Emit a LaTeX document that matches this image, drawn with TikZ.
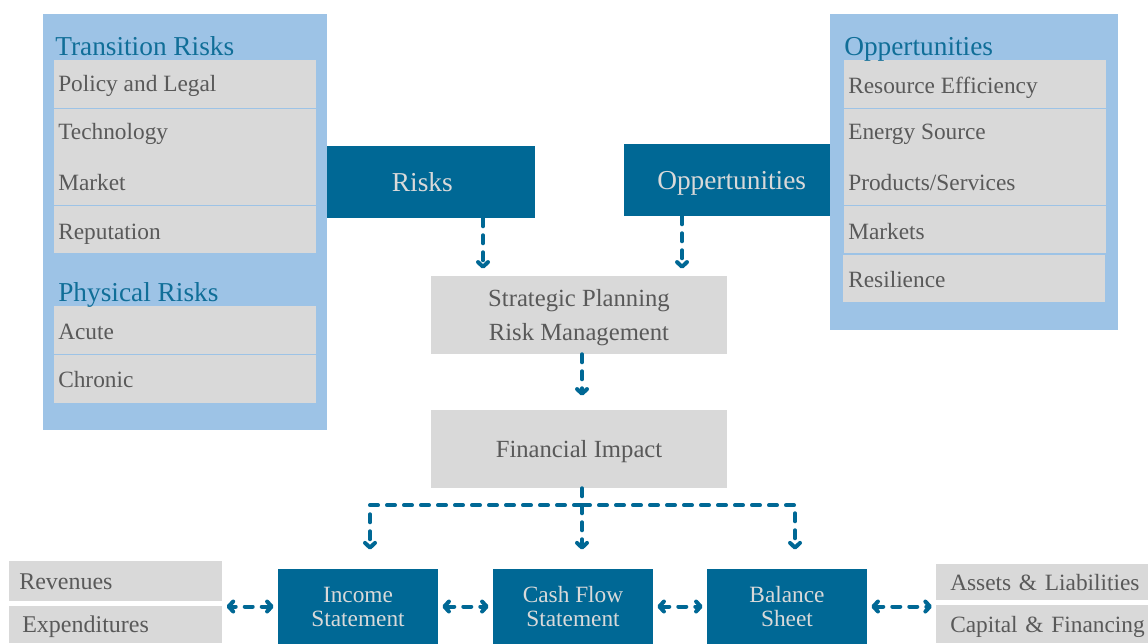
\documentclass[tikz,border=0pt]{standalone}
\usepackage{fontspec}
\setmainfont{Liberation Serif}
\usetikzlibrary{arrows.meta}

\definecolor{panelblue}{RGB}{157,195,230}
\definecolor{boxteal}{RGB}{0,104,149}
\definecolor{titleteal}{RGB}{16,110,152}
\definecolor{cellgray}{RGB}{217,217,217}
\definecolor{cellink}{RGB}{89,89,89}

\begin{document}
\begin{tikzpicture}[x=0.75pt,y=0.75pt,yscale=-1,xscale=1,
	panel/.style={fill=panelblue},
	cell/.style={fill=cellgray},
	entry/.style={anchor=base west,inner sep=0pt,text=cellink,font=\fontsize{17.5}{20}\selectfont},
	heading/.style={anchor=base west,inner sep=0pt,text=titleteal,font=\fontsize{20.5}{24}\selectfont},
	keybox/.style={fill=boxteal,text=cellgray,inner sep=0pt,align=center},
	greybox/.style={fill=cellgray,text=cellink,inner sep=0pt,align=center},
	sidebox/.style={fill=cellgray,text=cellink,anchor=north west,inner ysep=0pt,align=left,text height=12pt,text depth=0pt,font=\fontsize{18}{20}\selectfont},
	tip/.tip={Straight Barb[length=3.5pt,width=7.5pt,round]},
	flow/.style={boxteal,line width=3pt,line cap=round,dash pattern=on 6pt off 6.75pt,-tip},
	twoway/.style={flow,tip-tip,shorten <=3pt,shorten >=3pt}
	]
	\useasboundingbox (0,0) rectangle (1148,643);

	% transition and physical risks
	\fill[panel] (43,14) rectangle (327,430);
	\fill[cell] (54,60) rectangle (316,107.5);
	\fill[cell] (54,108.5) rectangle (316,205);
	\fill[cell] (54,206) rectangle (316,253);
	\fill[cell] (54,306) rectangle (316,354);
	\fill[cell] (54,355) rectangle (316,403);
	\node[heading] (trans) at (55,55) {Transition Risks};
	\node[entry] (policy) at (58,91) {Policy and Legal};
	\node[entry] (tech) at (58,139) {Technology};
	\node[entry] (market) at (58,190) {Market};
	\node[entry] (reput) at (58,239) {Reputation};
	\node[heading] (phys) at (58,301) {Physical Risks};
	\node[entry] (acute) at (58,339) {Acute};
	\node[entry] (chronic) at (58,387) {Chronic};

	% opportunities
	\fill[panel] (830,14) rectangle (1118,330);
	\fill[cell] (844,60) rectangle (1106,107.5);
	\fill[cell] (844,108.5) rectangle (1106,205);
	\fill[cell] (844,206) rectangle (1106,253);
	\fill[cell] (843,254.5) rectangle (1105,302);
	\node[heading] (opphead) at (844,55) {Oppertunities};
	\node[entry] (effic) at (848,93) {Resource Efficiency};
	\node[entry] (energy) at (848,139) {Energy Source};
	\node[entry] (prod) at (848,190) {Products/Services};
	\node[entry] (markets) at (848,239) {Markets};
	\node[entry] (resil) at (848,287) {Resilience};

	% middle column
	\node[keybox,minimum width=156pt,minimum height=54pt,text height=13.5pt,text depth=0pt,font=\fontsize{20.5}{24}\selectfont] (risks) at (431,182) {Risks\hspace*{13pt}};
	\node[keybox,minimum width=154.5pt,minimum height=54pt,text height=14pt,text depth=0pt,font=\fontsize{20.5}{24}\selectfont] (opps) at (727,180) {\hspace*{7pt}Oppertunities};
	\node[greybox,minimum width=222pt,minimum height=58.5pt,text depth=0pt,font=\fontsize{18.5}{25.5}\selectfont] (strat) at (579,315) {Strategic Planning\\Risk Management};
	\node[greybox,minimum width=222pt,minimum height=58.5pt,text height=12pt,text depth=0pt,font=\fontsize{18.5}{22}\selectfont] (fin) at (579,449) {Financial Impact};

	% statements
	\node[keybox,minimum width=120pt,minimum height=57pt,text depth=0pt,font=\fontsize{17.5}{18}\selectfont] (income) at (358,606.5) {Income\\Statement};
	\node[keybox,minimum width=120pt,minimum height=57pt,text depth=0pt,font=\fontsize{17.5}{18}\selectfont] (cash) at (573,606.5) {Cash Flow\\Statement};
	\node[keybox,minimum width=120pt,minimum height=57pt,text depth=0pt,font=\fontsize{17.5}{18}\selectfont] (balance) at (787,606.5) {Balance\\Sheet};
	\node[sidebox,inner xsep=7.5pt,text width=144.75pt,minimum height=30pt] (rev) at (9,561) {Revenues};
	\node[sidebox,inner xsep=9.75pt,text width=140.25pt,minimum height=27.75pt] (expend) at (9,606) {Expenditures};
	\node[sidebox,inner xsep=10.5pt,text width=150pt,minimum height=27pt,font=\fontsize{17.5}{20}\selectfont] (assets) at (936,564) {Assets \& Liabilities};
	\node[sidebox,inner xsep=10.5pt,text width=150pt,minimum height=28.5pt,font=\fontsize{17.5}{20}\selectfont] (capital) at (936,605) {Capital \& Financing};

	% dashed connectors
	\coordinate (rdrop) at ([xshift=39pt]risks.south);
	\coordinate (odrop) at ([xshift=-33.75pt]opps.south);
	\coordinate (sdrop) at ([xshift=2.25pt]strat.south);
	\coordinate (fdrop) at ([xshift=2.25pt]fin.south);
	\path (fdrop) ++(0,17) coordinate (split);
	\draw[flow,shorten >=5.25pt] (rdrop) -- (rdrop |- strat.north);
	\draw[flow,shorten >=5.25pt] (odrop) -- (odrop |- strat.north);
	\draw[flow,shorten >=10.5pt] (sdrop) -- (sdrop |- fin.north);
	\draw[flow,shorten >=14pt] (fdrop) -- (fdrop |- cash.north);
	\draw[flow,shorten >=14pt] (split) -| ([xshift=9pt]income.north);
	\draw[flow,shorten >=14pt] (split) -| ([xshift=6pt]balance.north);
	\draw[twoway] (income.west) -- (rev.east |- income.west);
	\draw[twoway] (income.east) -- (cash.west);
	\draw[twoway] (cash.east) -- (balance.west);
	\draw[twoway] (balance.east) -- (assets.west |- balance.east);
\end{tikzpicture}
\end{document}
